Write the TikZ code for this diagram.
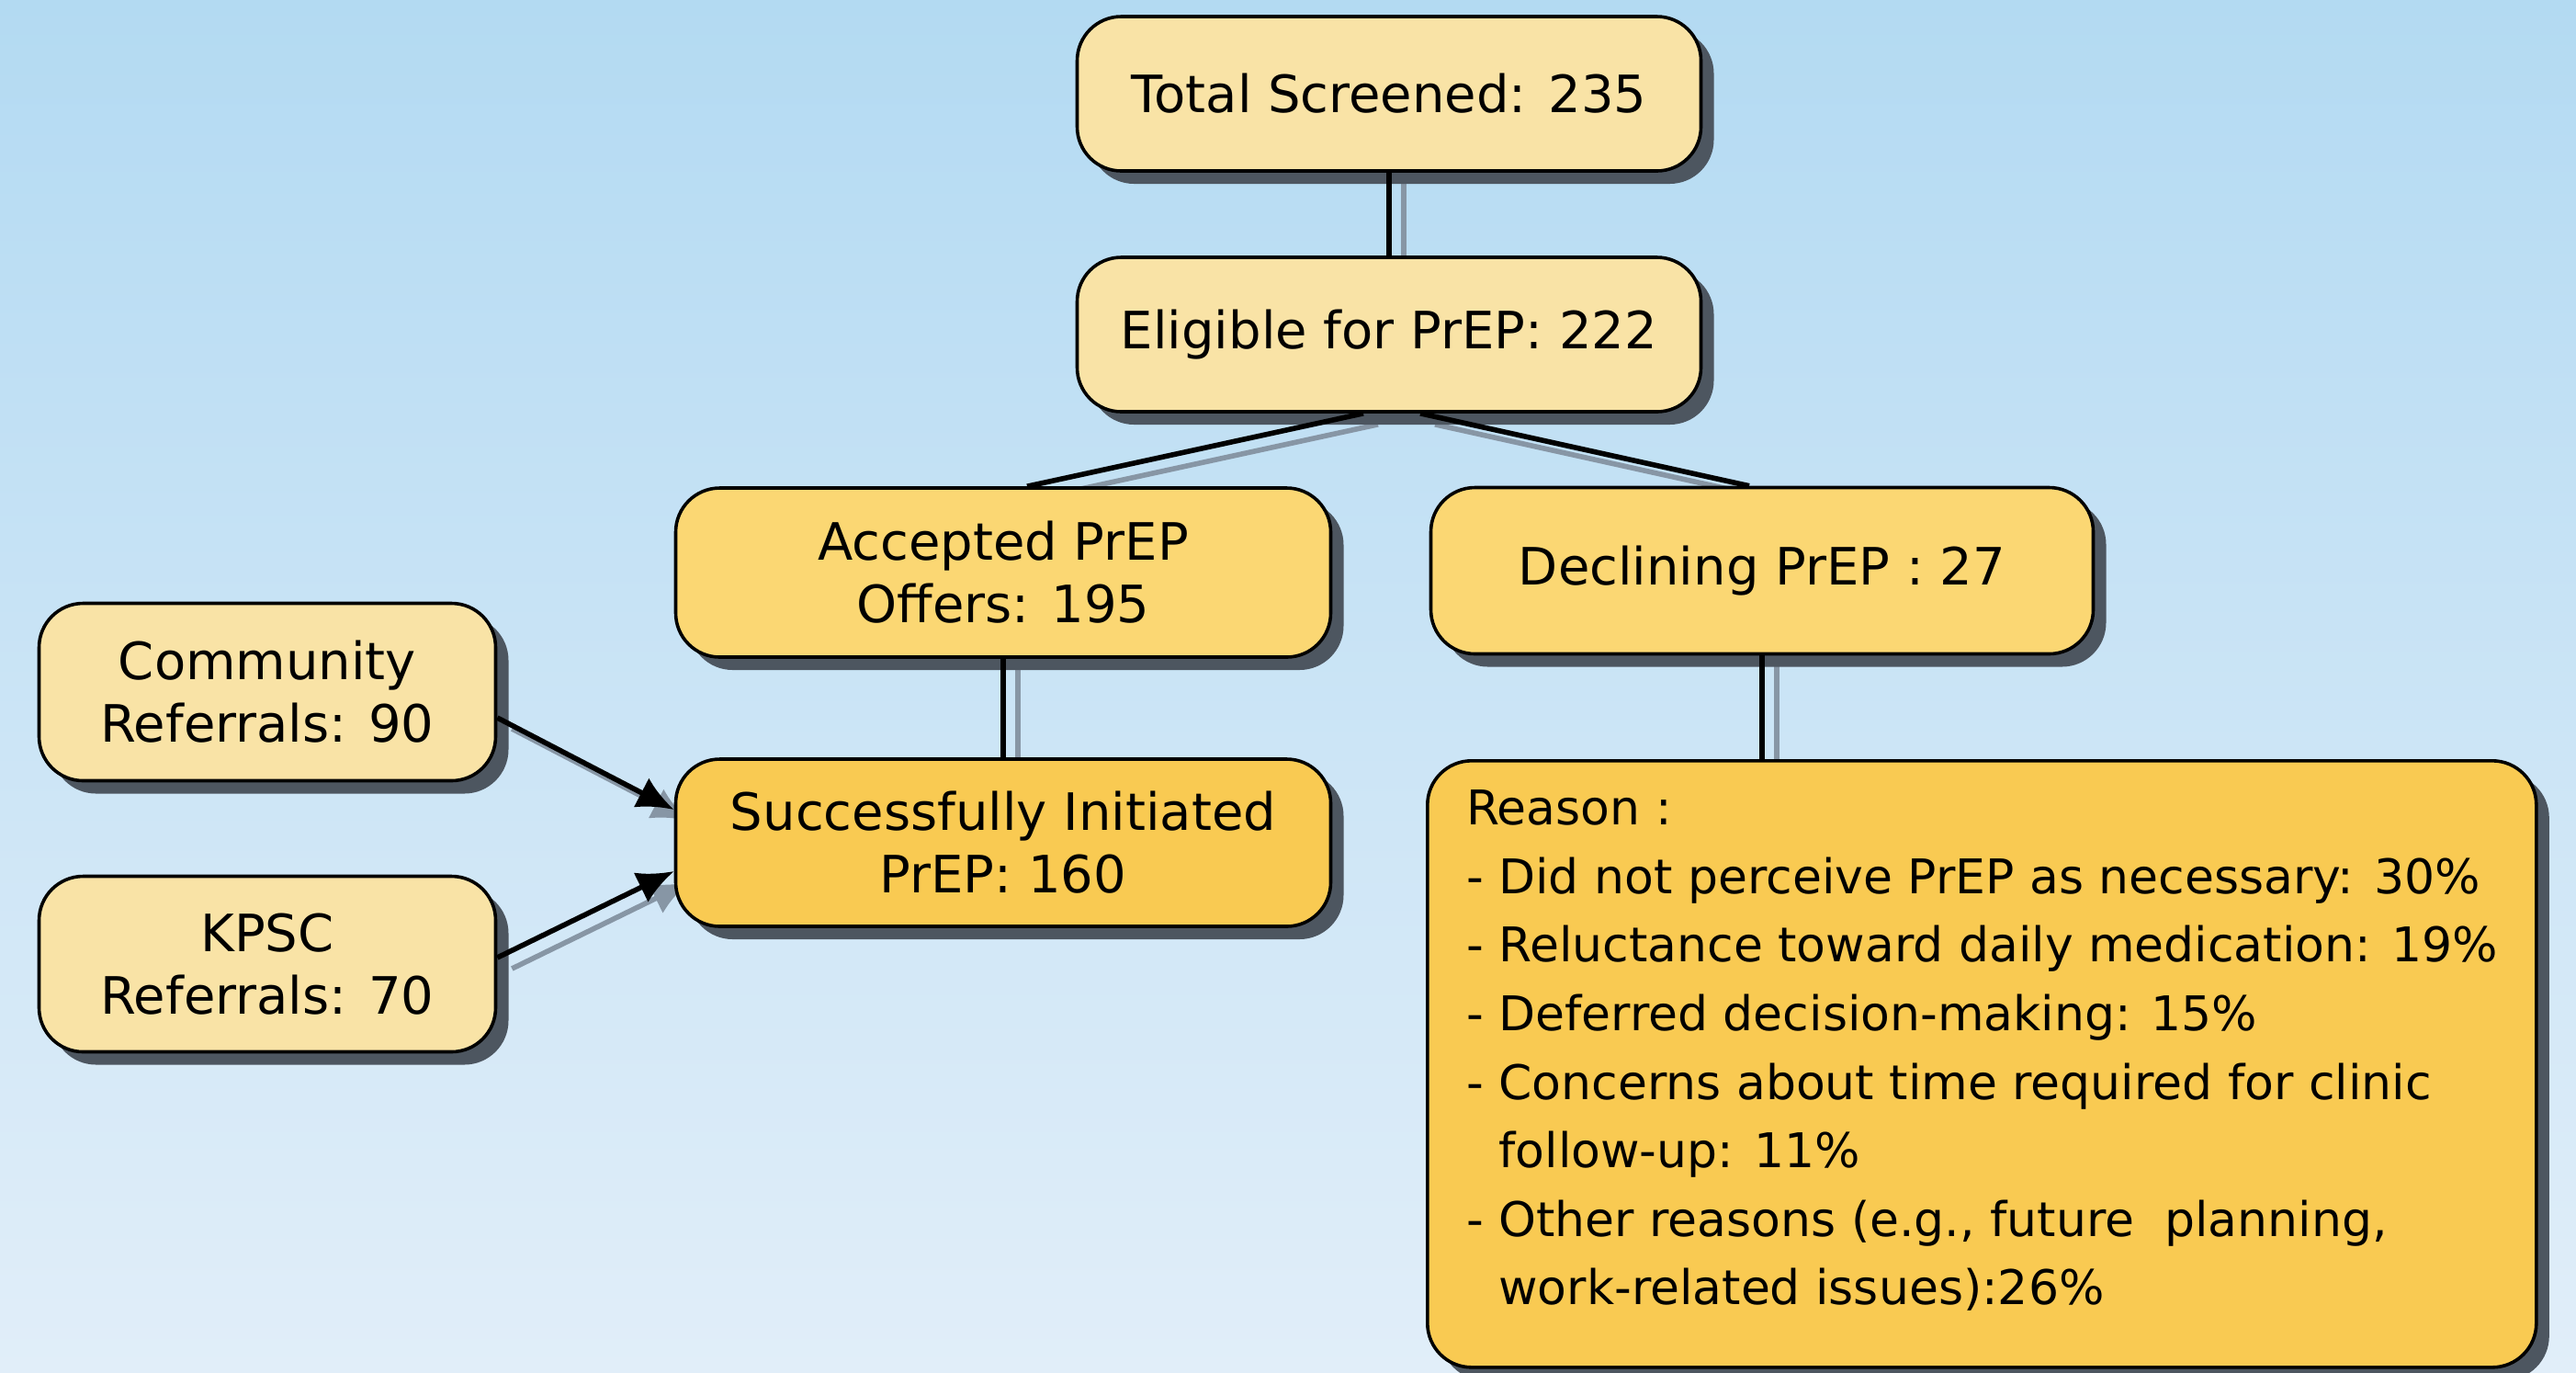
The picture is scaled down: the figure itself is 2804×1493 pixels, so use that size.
\documentclass[tikz,border=0pt]{standalone}
\usepackage{fontspec}
\setmainfont{DejaVu Sans}
\usetikzlibrary{shadows,arrows.meta,calc}
\definecolor{bgtop}{RGB}{179,218,242}
\definecolor{bgbot}{RGB}{225,238,249}
\definecolor{fillA}{RGB}{249,227,166}
\definecolor{fillB}{RGB}{251,215,115}
\definecolor{fillC}{RGB}{249,202,82}
\definecolor{shadowc}{RGB}{77,86,96}
\definecolor{lineshadow}{RGB}{135,150,165}
\pgfdeclarelayer{bglayer}
\pgfdeclarelayer{lineslayer}
\pgfsetlayers{bglayer,lineslayer,main}
\tikzset{
  boxbase/.style={rounded corners=12pt, draw=black, line width=0.9pt,
    drop shadow={shadow xshift=3.5pt, shadow yshift=-3.5pt, fill=shadowc, opacity=1},
    align=center, inner sep=0pt, text=black,
    font=\fontsize{14pt}{17pt}\selectfont},
  lightbox/.style={boxbase, fill=fillA},
  midbox/.style={boxbase, fill=fillB},
  darkbox/.style={boxbase, fill=fillC},
  conn/.style={draw=black, line width=1.4pt},
  connshadow/.style={draw=lineshadow, line width=1.4pt, transform canvas={xshift=4pt,yshift=-3pt}},
  arr/.style={conn, -{Latex[length=10pt,width=9pt]}},
  arrshadow/.style={connshadow, -{Latex[length=10pt,width=9pt]}}
}
\begin{document}
\begin{tikzpicture}[x=0.25pt,y=-0.25pt]
\useasboundingbox (0,0) rectangle (2804,1493);
\begin{pgfonlayer}{bglayer}
\shade[top color=bgtop, bottom color=bgbot] (0,0) rectangle (2804,1493);
\end{pgfonlayer}

\node[lightbox, minimum width=169.75pt, minimum height=42pt] (total) at (1512,102) {Total Screened: 235};
\node[lightbox, minimum width=169.75pt, minimum height=42pt] (elig) at (1512,364) {Eligible for PrEP: 222};
\node[midbox, minimum width=178.25pt, minimum height=46pt] (acc) at (1092,623) {Accepted PrEP\\Offers: 195};
\node[midbox, minimum width=180.25pt, minimum height=45.25pt] (dec) at (1918,621) {Declining PrEP : 27};
\node[lightbox, minimum width=124.25pt, minimum height=48.25pt] (comm) at (291,753) {Community\\Referrals: 90};
\node[lightbox, minimum width=124.25pt, minimum height=47.75pt] (kpsc) at (291,1049) {KPSC\\Referrals: 70};
\node[darkbox, minimum width=178.25pt, minimum height=45.5pt] (succ) at (1092,917) {Successfully Initiated\\PrEP: 160};
\node[darkbox, anchor=north west, minimum width=301.75pt, minimum height=165pt,
      text depth=9pt,
      align=left, font=\fontsize{13pt}{18.65pt}\selectfont] (reason) at (1552,826)
  {Reason :\\
   - Did not perceive PrEP as necessary: 30\%\\
   - Reluctance toward daily medication: 19\%\\
   - Deferred decision-making: 15\%\\
   - Concerns about time required for clinic\\
   \phantom{- }follow-up: 11\%\\
   - Other reasons (e.g., future\ \ planning,\\
   \phantom{- }work-related issues):26\%};

\begin{pgfonlayer}{lineslayer}
\draw[connshadow] (total.south) -- (elig.north);
\draw[connshadow] ([xshift=-7pt]elig.south) -- ([xshift=6.5pt]acc.north);
\draw[connshadow] ([xshift=8.5pt]elig.south) -- ([xshift=-3.5pt]dec.north);
\draw[connshadow] (acc.south) -- (succ.north);
\draw[connshadow] (dec.south) -- (dec.south |- reason.north);
\draw[arrshadow] ([yshift=-7pt]comm.east) -- ([yshift=9pt]succ.west);
\draw[arrshadow] ([yshift=1.75pt]kpsc.east) -- ([yshift=-7.75pt]succ.west);
\end{pgfonlayer}
\draw[conn] (total.south) -- (elig.north);
\draw[conn] ([xshift=-7pt]elig.south) -- ([xshift=6.5pt]acc.north);
\draw[conn] ([xshift=8.5pt]elig.south) -- ([xshift=-3.5pt]dec.north);
\draw[conn] (acc.south) -- (succ.north);
\draw[conn] (dec.south) -- (dec.south |- reason.north);
\draw[arr] ([yshift=-7pt]comm.east) -- ([yshift=9pt]succ.west);
\draw[arr] ([yshift=1.75pt]kpsc.east) -- ([yshift=-7.75pt]succ.west);
\end{tikzpicture}
\end{document}
